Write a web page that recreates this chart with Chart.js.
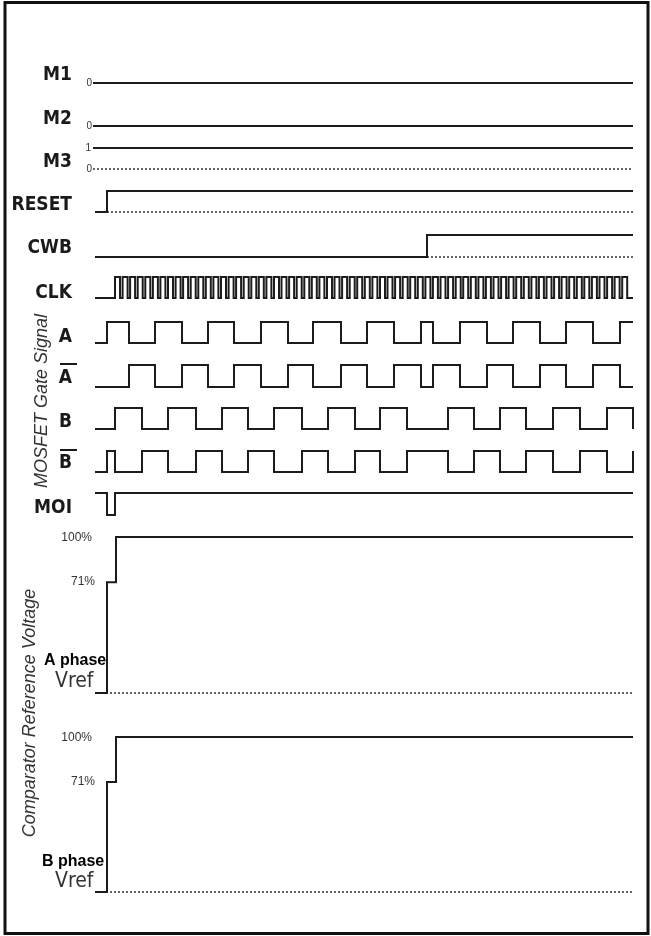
<!DOCTYPE html>
<html>
<head>
<meta charset="utf-8">
<script src="https://cdn.jsdelivr.net/npm/chart.js@4"></script>
<style>
html, body { margin: 0; padding: 0; background: #fff; }
#wrap { width: 651px; height: 936px; }
</style>
</head>
<body>
<div id="wrap"><canvas id="timing" width="651" height="936"></canvas></div>
<script>
// Time runs from 0 (left end of the waveforms) to tEnd, arbitrary units
var tEnd = 538;

// Digital signals: start level and the times where the level toggles
var m1Start = 0, m2Start = 0, m3Start = 1;
var resetStart = 0, resetEdges = [12];
var cwbStart = 0, cwbEdges = [332];
var moiStart = 1, moiEdges = [12, 20];

var aStart = 0;
var aEdges = [12, 34, 60, 87, 113, 139, 166, 193, 218, 246, 272, 299, 326, 338, 365, 392, 418, 445, 471, 498, 525];
var aBarStart = 0;
var aBarEdges = [34, 60, 87, 113, 139, 166, 193, 218, 246, 272, 299, 326, 338, 365, 392, 418, 445, 471, 498, 525];
var bStart = 0;
var bEdges = [20, 47, 73, 101, 127, 153, 179, 207, 233, 260, 285, 312, 353, 379, 405, 431, 458, 485, 512, 538];
var bBarStart = 0;
var bBarEdges = [12, 20, 47, 73, 101, 127, 153, 179, 207, 233, 260, 285, 312, 353, 379, 405, 431, 458, 485, 512, 538];

// CLK: rising edges and how long each pulse stays high
var clkRise = [20, 27.6, 35.1, 42.7, 50.3, 57.9, 65.4, 73, 80.6, 88.1, 95.7, 103.3, 110.8, 118.4, 126, 133.6,
  141.1, 148.7, 156.3, 163.8, 171.4, 179, 186.5, 194.1, 201.7, 209.3, 216.8, 224.4, 232, 239.5, 247.1, 254.7,
  262.2, 269.8, 277.4, 285, 292.5, 300.1, 307.7, 315.2, 322.8, 330.4, 337.9, 345.5, 353.1, 360.7, 368.2, 375.8,
  383.4, 390.9, 398.5, 406.1, 413.6, 421.2, 428.8, 436.4, 443.9, 451.5, 459.1, 466.6, 474.2, 481.8, 489.3, 496.9,
  504.5, 512.1, 519.6, 527.2];
var clkHigh = 5;

// Comparator reference voltage (fraction of 100%)
var vrefTimes = [0, 12, 21];
var vrefLevels = [0, 0.71, 1];
var vrefTickLabels = ['100%', '71%'];

// Row placement on the page (pixel y of the high and low level)
var rows = {
  M1: { hi: 62, lo: 83 },
  M2: { hi: 105, lo: 126 },
  M3: { hi: 148, lo: 169 },
  RESET: { hi: 191, lo: 212 },
  CWB: { hi: 235, lo: 257 },
  CLK: { hi: 277, lo: 298 },
  A: { hi: 322, lo: 343 },
  Abar: { hi: 365, lo: 387 },
  B: { hi: 408, lo: 429 },
  Bbar: { hi: 451, lo: 472 },
  MOI: { hi: 493, lo: 515 },
  VA: { hi: 537, lo: 693 },
  VB: { hi: 737, lo: 892 }
};

function yOf(row, level) {
  return row.lo - level * (row.lo - row.hi);
}

function edgesToPoints(start, edges, row, t0) {
  var lvl = start;
  var pts = [{ x: t0, y: yOf(row, lvl) }];
  edges.forEach(function (e) {
    pts.push({ x: e, y: yOf(row, lvl) });
    lvl = 1 - lvl;
    pts.push({ x: e, y: yOf(row, lvl) });
  });
  pts.push({ x: tEnd, y: yOf(row, lvl) });
  return pts;
}

function vrefPoints(row) {
  var pts = [];
  for (var i = 0; i < vrefTimes.length; i++) {
    if (i > 0) pts.push({ x: vrefTimes[i], y: yOf(row, vrefLevels[i - 1]) });
    pts.push({ x: vrefTimes[i], y: yOf(row, vrefLevels[i]) });
  }
  pts.push({ x: tEnd, y: yOf(row, vrefLevels[vrefLevels.length - 1]) });
  return pts;
}

var clkEdges = [];
clkRise.forEach(function (r) { clkEdges.push(r, r + clkHigh); });

function solid(pts) {
  return { data: pts, borderColor: '#1c1c1c', borderWidth: 2, pointRadius: 0, fill: false, tension: 0 };
}
function dotted(row, from) {
  return { data: [{ x: from, y: row.lo }, { x: tEnd, y: row.lo }], borderColor: '#333', borderWidth: 1.5,
    borderDash: [2, 2], pointRadius: 0, fill: false };
}

var datasets = [
  solid(edgesToPoints(m1Start, [], rows.M1, -2)),
  solid(edgesToPoints(m2Start, [], rows.M2, -2)),
  solid(edgesToPoints(m3Start, [], rows.M3, -2)),
  dotted(rows.M3, -2),
  solid(edgesToPoints(resetStart, resetEdges, rows.RESET, 0)),
  dotted(rows.RESET, resetEdges[0]),
  solid(edgesToPoints(cwbStart, cwbEdges, rows.CWB, 0)),
  dotted(rows.CWB, cwbEdges[0]),
  solid(edgesToPoints(0, clkEdges, rows.CLK, 0)),
  solid(edgesToPoints(aStart, aEdges, rows.A, 0)),
  solid(edgesToPoints(aBarStart, aBarEdges, rows.Abar, 0)),
  solid(edgesToPoints(bStart, bEdges, rows.B, 0)),
  solid(edgesToPoints(bBarStart, bBarEdges, rows.Bbar, 0)),
  solid(edgesToPoints(moiStart, moiEdges, rows.MOI, 0)),
  solid(vrefPoints(rows.VA)),
  dotted(rows.VA, 15),
  solid(vrefPoints(rows.VB)),
  dotted(rows.VB, 15)
];

var labelFont = 'bold 19px "DejaVu Sans Condensed", "Liberation Sans Narrow", sans-serif';

var textPlugin = {
  id: 'textPlugin',
  beforeDraw: function (chart) {
    var ctx = chart.ctx;
    ctx.save();
    ctx.fillStyle = '#fff';
    ctx.fillRect(0, 0, chart.width, chart.height);
    ctx.restore();
  },
  afterDraw: function (chart) {
    var ctx = chart.ctx;
    ctx.save();
    // frame
    ctx.strokeStyle = '#111';
    ctx.lineWidth = 3;
    ctx.strokeRect(5, 2.5, 643, 931);

    // signal names
    ctx.fillStyle = '#1a1a1a';
    ctx.font = labelFont;
    ctx.textAlign = 'right';
    ctx.textBaseline = 'alphabetic';
    var names = [['M1', 80], ['M2', 124], ['M3', 167], ['RESET', 210], ['CWB', 253], ['CLK', 298],
      ['A', 342], ['A', 383], ['B', 427], ['B', 468], ['MOI', 513]];
    names.forEach(function (n) { ctx.fillText(n[0], 72, n[1]); });
    ctx.strokeStyle = '#1a1a1a';
    ctx.lineWidth = 2;
    ctx.beginPath();
    ctx.moveTo(60, 364); ctx.lineTo(77, 364);
    ctx.moveTo(60, 450); ctx.lineTo(77, 450);
    ctx.stroke();

    // level marks on M rows
    ctx.fillStyle = '#333';
    ctx.font = '10px "Liberation Sans", sans-serif';
    ctx.textBaseline = 'middle';
    ctx.fillText('0', 92, rows.M1.lo);
    ctx.fillText('0', 92, rows.M2.lo);
    ctx.fillText('1', 91, rows.M3.hi);
    ctx.fillText('0', 92, rows.M3.lo);

    // percent marks on Vref rows
    ctx.font = '12px "Liberation Sans", sans-serif';
    ctx.textBaseline = 'alphabetic';
    ctx.fillText(vrefTickLabels[0], 92, 541);
    ctx.fillText(vrefTickLabels[1], 95, 585);
    ctx.fillText(vrefTickLabels[0], 92, 741);
    ctx.fillText(vrefTickLabels[1], 95, 785);

    ctx.textAlign = 'left';
    ctx.fillStyle = '#000';
    ctx.font = 'bold 16px "Liberation Sans", sans-serif';
    ctx.fillText('A phase', 44, 665);
    ctx.fillText('B phase', 42, 866);
    ctx.fillStyle = '#333';
    ctx.font = '21px "DejaVu Sans Condensed", "Liberation Sans Narrow", sans-serif';
    ctx.fillText('Vref', 55, 687);
    ctx.fillText('Vref', 55, 887);

    // rotated group titles
    ctx.font = 'italic 18px "Liberation Sans", sans-serif';
    ctx.textAlign = 'center';
    ctx.textBaseline = 'middle';
    ctx.fillStyle = '#333';
    ctx.save();
    ctx.translate(42, 401);
    ctx.rotate(-Math.PI / 2);
    ctx.fillText('MOSFET Gate Signal', 0, 0);
    ctx.restore();
    ctx.save();
    ctx.translate(30, 713);
    ctx.rotate(-Math.PI / 2);
    ctx.fillText('Comparator Reference Voltage', 0, 0);
    ctx.restore();

    ctx.restore();
  }
};

var chart = new Chart(document.getElementById('timing').getContext('2d'), {
  type: 'line',
  data: { datasets: datasets },
  options: {
    responsive: false,
    animation: false,
    layout: { padding: 0 },
    plugins: { legend: { display: false }, tooltip: { enabled: false } },
    scales: {
      x: { type: 'linear', min: -95, max: 651 - 95, display: false },
      y: { type: 'linear', min: 0, max: 936, reverse: true, display: false }
    }
  },
  plugins: [textPlugin]
});
</script>
</body>
</html>
